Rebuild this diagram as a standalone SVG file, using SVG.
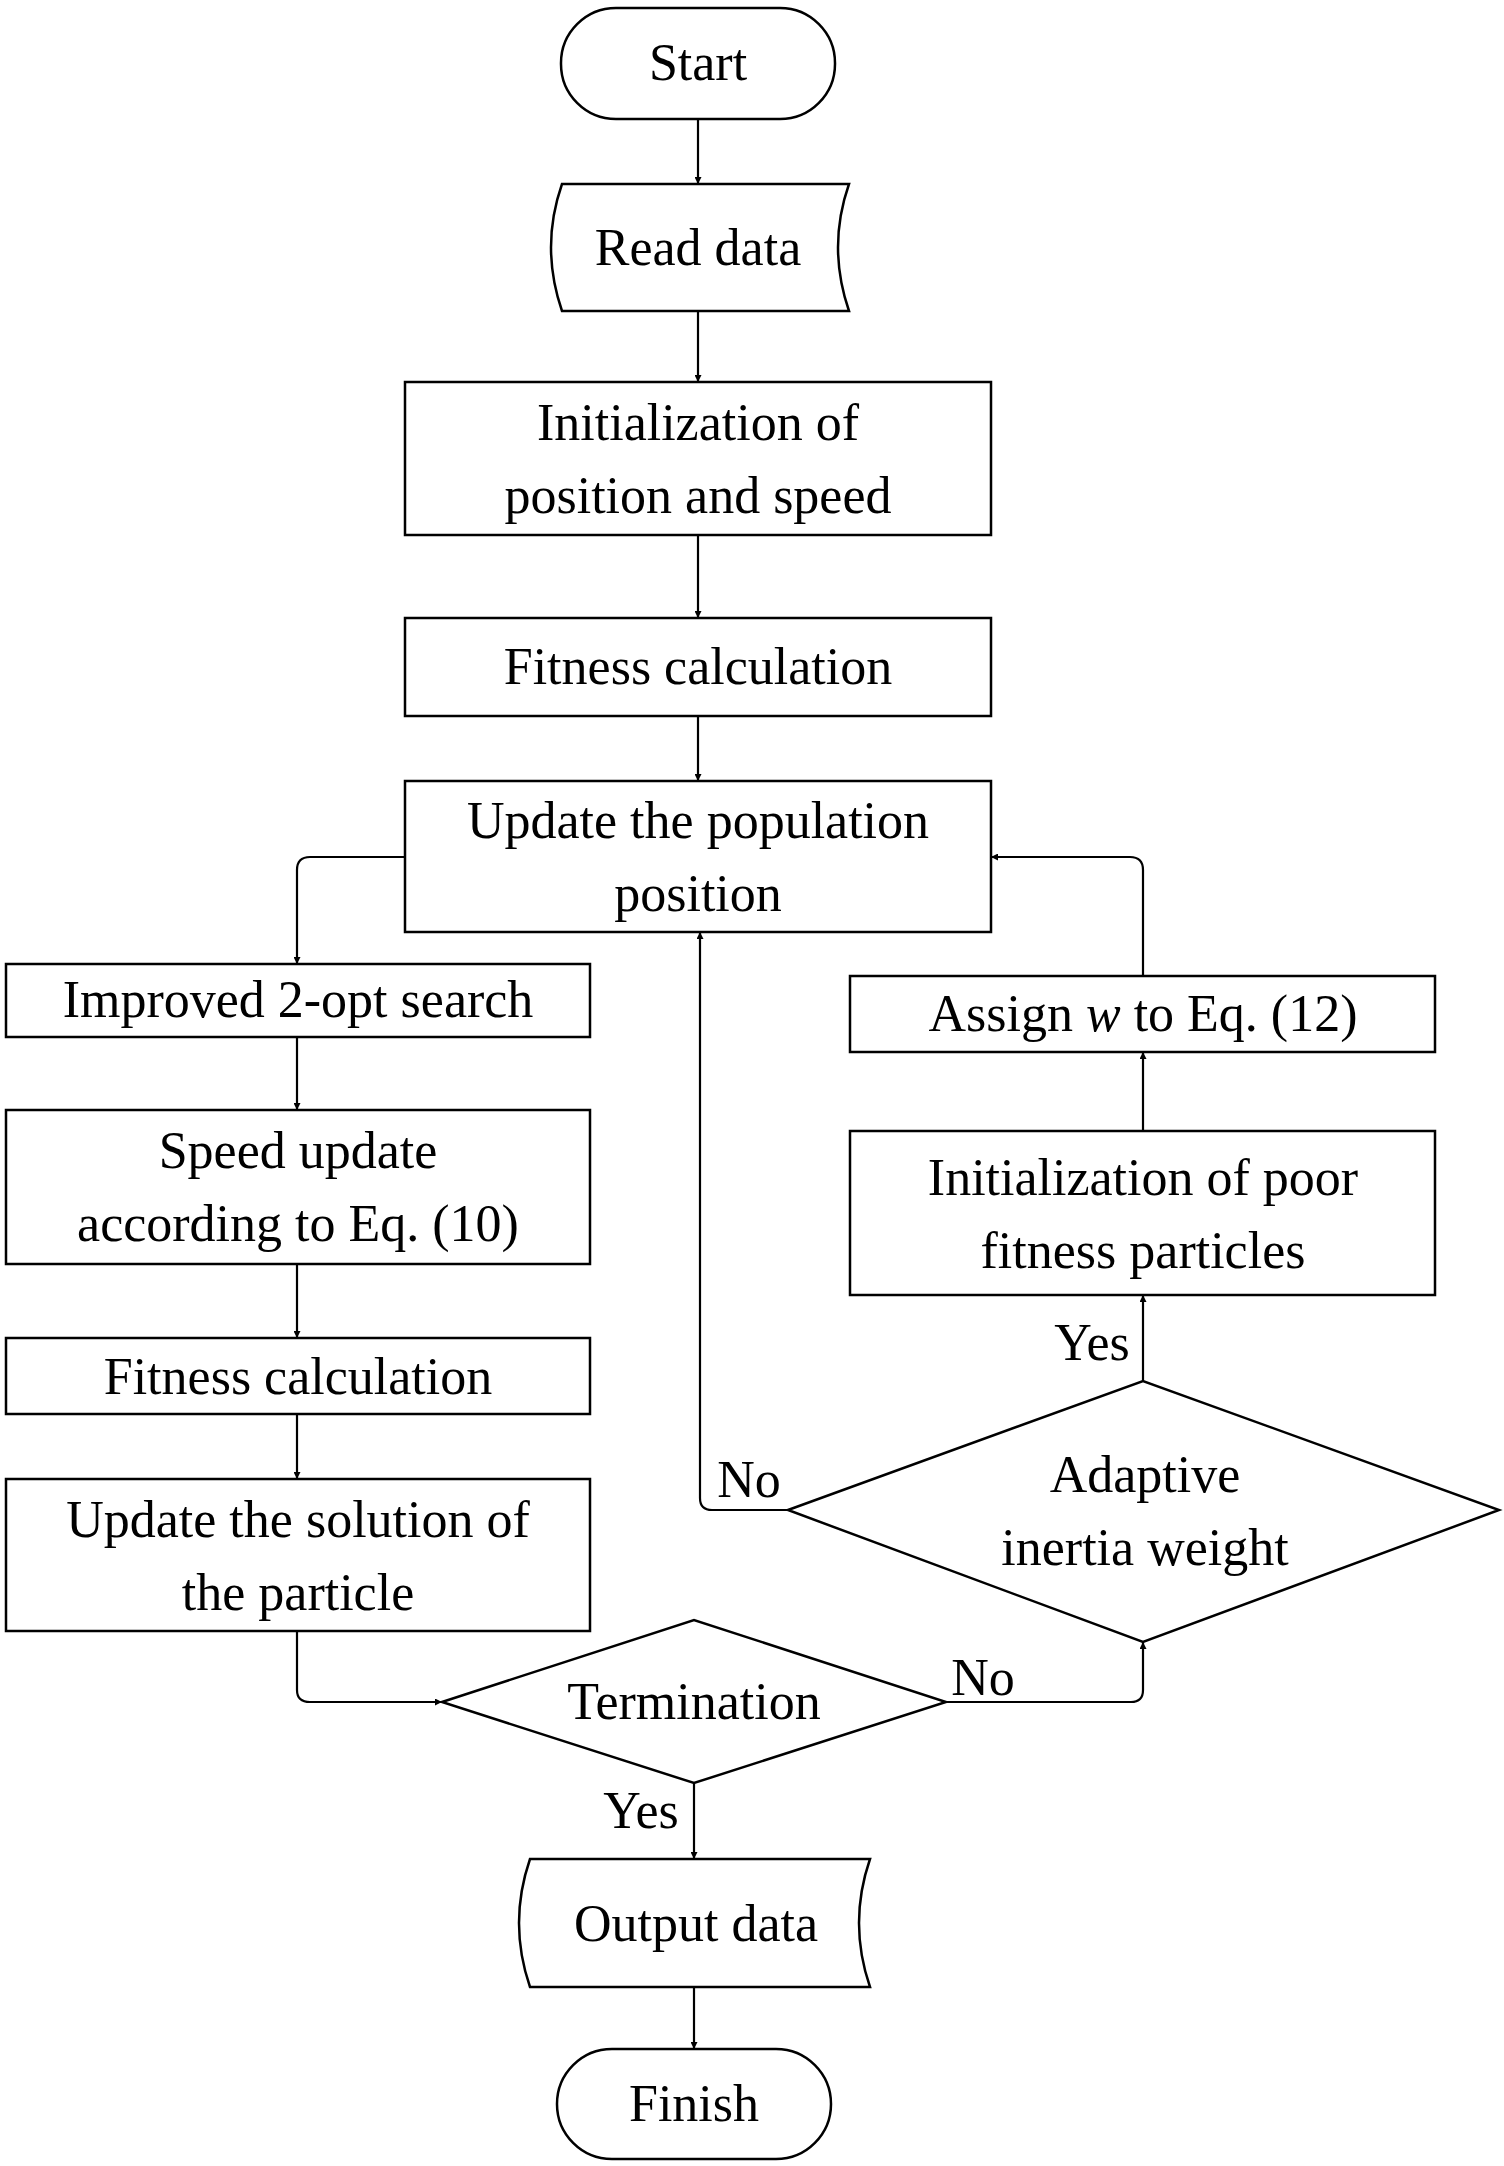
<svg xmlns="http://www.w3.org/2000/svg" width="1504" height="2166" viewBox="0 0 1504 2166">
<defs>
<marker id="ah" viewBox="0 0 10 10" refX="10" refY="5" markerWidth="7" markerHeight="7" orient="auto" markerUnits="userSpaceOnUse"><path d="M0,0 L10,5 L0,10 z" fill="#000"/></marker>
<style>
.s{fill:#fff;stroke:#000;stroke-width:2.5}
.c{fill:none;stroke:#000;stroke-width:2.2;marker-end:url(#ah)}
text{font-family:"Liberation Serif","Times New Roman",serif;font-size:52px;fill:#000;text-anchor:middle}
</style>
</defs>
<rect width="1504" height="2166" fill="#fff"/>
<g id="connectors">
<path class="c" d="M698,119 V184"/>
<path class="c" d="M698,311 V382"/>
<path class="c" d="M698,535 V618"/>
<path class="c" d="M698,716 V781"/>
<path class="c" d="M405,857 H310 Q297,857 297,870 V964"/>
<path class="c" d="M297,1037 V1110"/>
<path class="c" d="M297,1264 V1338"/>
<path class="c" d="M297,1414 V1479"/>
<path class="c" d="M297,1631 V1690 Q297,1702 310,1702 H442"/>
<path class="c" d="M694,1783 V1859"/>
<path class="c" d="M694,1987 V2049"/>
<path class="c" d="M946,1702 H1131 Q1143,1702 1143,1690 V1642"/>
<path class="c" d="M1143,1381 V1295"/>
<path class="c" d="M1143,1131 V1052"/>
<path class="c" d="M1143,976 V870 Q1143,857 1130,857 H991"/>
<path class="c" d="M788,1510 H712 Q700,1510 700,1498 V932"/>
<text x="1092" y="1360">Yes</text>
<text x="749" y="1497">No</text>
<text x="983" y="1695">No</text>
<text x="641" y="1828">Yes</text>
</g>
<g id="start"><rect class="s" x="561" y="8" width="274" height="111" rx="55"/><text x="698" y="80">Start</text></g>
<g id="read"><path class="s" d="M562,184 H849 Q827,247 849,311 H562 Q540,247 562,184 Z"/><text x="698" y="265">Read data</text></g>
<g id="init"><rect class="s" x="405" y="382" width="586" height="153"/><text x="698" y="440">Initialization of</text><text x="698" y="513">position and speed</text></g>
<g id="fit1"><rect class="s" x="405" y="618" width="586" height="98"/><text x="698" y="684">Fitness calculation</text></g>
<g id="pop"><rect class="s" x="405" y="781" width="586" height="151"/><text x="698" y="838">Update the population</text><text x="698" y="911">position</text></g>
<g id="opt"><rect class="s" x="6" y="964" width="584" height="73"/><text x="298" y="1017">Improved 2-opt search</text></g>
<g id="speed"><rect class="s" x="6" y="1110" width="584" height="154"/><text x="298" y="1168">Speed update</text><text x="298" y="1241">according to Eq. (10)</text></g>
<g id="fit2"><rect class="s" x="6" y="1338" width="584" height="76"/><text x="298" y="1394">Fitness calculation</text></g>
<g id="sol"><rect class="s" x="6" y="1479" width="584" height="152"/><text x="298" y="1537">Update the solution of</text><text x="298" y="1610">the particle</text></g>
<g id="term"><path class="s" d="M442,1702 L694,1620 L946,1702 L694,1783 Z"/><text x="694" y="1719">Termination</text></g>
<g id="out"><path class="s" d="M530,1859 H870 Q848,1923 870,1987 H530 Q508,1923 530,1859 Z"/><text x="696" y="1941">Output data</text></g>
<g id="finish"><rect class="s" x="557" y="2049" width="274" height="110" rx="55"/><text x="694" y="2121">Finish</text></g>
<g id="adapt"><path class="s" d="M788,1510 L1143,1381 L1499,1510 L1143,1642 Z"/><text x="1145" y="1492">Adaptive</text><text x="1145" y="1565">inertia weight</text></g>
<g id="poor"><rect class="s" x="850" y="1131" width="585" height="164"/><text x="1143" y="1195">Initialization of poor</text><text x="1143" y="1268">fitness particles</text></g>
<g id="assign"><rect class="s" x="850" y="976" width="585" height="76"/><text x="1143" y="1031">Assign <tspan font-style="italic">w</tspan> to Eq. (12)</text></g>
</svg>
